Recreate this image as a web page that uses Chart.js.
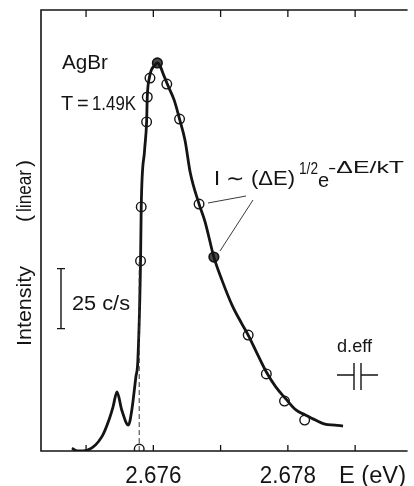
<!DOCTYPE html>
<html lang="en">
<head>
  <meta charset="UTF-8" />
  <title>AgBr emission line</title>
  <script src="https://cdn.jsdelivr.net/npm/chart.js"></script>
  <style>
    body {
      margin: 0;
      background: #fff;
    }
    canvas {
      display: block;
    }
  </style>
</head>
<body>
  <canvas id="spectrum" width="414" height="486"></canvas>

  <script>
    // traced spectrum: photon energy (eV) and intensity (c/s)
    const curveE = [2.67479, 2.67487, 2.67502, 2.67524, 2.67534, 2.67540, 2.67546, 2.67553, 2.67563, 2.67568,
      2.67574, 2.67577, 2.67581, 2.67582, 2.67587, 2.67590, 2.67591, 2.67594, 2.67597, 2.67601,
      2.67606, 2.67610, 2.67616, 2.67622, 2.67631, 2.67639, 2.67647, 2.67655, 2.67668, 2.67677,
      2.67690, 2.67702, 2.67717, 2.67731, 2.67741, 2.67756, 2.67768, 2.67782, 2.67797, 2.67812,
      2.67826, 2.67841, 2.67855, 2.67870, 2.67882];
    const curveI = [1.2, 0, 0.4, 6.2, 12.9, 18.3, 24.6, 17.1, 10.8, 17.1,
      30.8, 37.9, 79.2, 101.7, 125.4, 137.1, 147.5, 155.4, 158.7, 160.4,
      161.7, 160.4, 156.2, 152.1, 146.2, 138.3, 129.6, 115.8, 102.9, 95.4,
      80.8, 71.2, 60.8, 53.3, 48.3, 39.6, 32.9, 26.7, 21.7, 17.1,
      15.0, 12.9, 11.2, 10.8, 10.4];

    // fitted points (open circles)
    const openE = [2.67579, 2.67581, 2.67582, 2.67590, 2.67591, 2.67595, 2.67620, 2.67639, 2.67668, 2.67741, 2.67768, 2.67795, 2.67825];
    const openI = [0.8, 79.2, 101.7, 137.1, 147.5, 155.4, 152.9, 138.3, 102.9, 48.3, 32.1, 20.8, 12.9];

    // fit anchor points (filled circles)
    const filledE = [2.67606, 2.67690];
    const filledI = [161.7, 80.8];

    // dashed marker for the onset energy
    const onsetE = [2.67579, 2.67579];
    const onsetI = [0, 79.2];

    const xTicks = [2.675, 2.676, 2.677, 2.678, 2.679];
    const xTickLabels = ["", "2.676", "", "2.678", ""];
    const scaleBarTop = 76;
    const scaleBarCps = 25;

    const FONT = '"Liberation Sans", Arial, sans-serif';
    const INK = "#141414";

    const toXY = (xs, ys) => xs.map((x, i) => ({ x: x, y: ys[i] }));

    // draw text squeezed or stretched to a given width
    function fitText(ctx, text, x, y, width) {
      const w = ctx.measureText(text).width;
      ctx.save();
      ctx.translate(x, y);
      ctx.scale(width / w, 1);
      ctx.fillText(text, 0, 0);
      ctx.restore();
    }

    const decorations = {
      id: "decorations",
      afterDraw(chart) {
        const ctx = chart.ctx;
        const area = chart.chartArea;
        const xs = chart.scales.x;
        const ys = chart.scales.y;
        ctx.save();
        ctx.strokeStyle = INK;
        ctx.fillStyle = INK;
        ctx.textAlign = "left";
        ctx.textBaseline = "alphabetic";

        // frame: left, top, bottom
        ctx.lineWidth = 1.6;
        ctx.beginPath();
        ctx.moveTo(area.right, area.top);
        ctx.lineTo(area.left, area.top);
        ctx.lineTo(area.left, area.bottom);
        ctx.lineTo(area.right, area.bottom);
        ctx.stroke();

        // inward ticks on top and bottom
        ctx.lineWidth = 1.3;
        xTicks.forEach((t, i) => {
          const px = xs.getPixelForValue(t);
          ctx.beginPath();
          ctx.moveTo(px, area.top);
          ctx.lineTo(px, area.top + 7);
          ctx.moveTo(px, area.bottom);
          ctx.lineTo(px, area.bottom - 6);
          ctx.stroke();
          if (xTickLabels[i]) {
            ctx.font = "24px " + FONT;
            fitText(ctx, xTickLabels[i], px - 28, 483, 56);
          }
        });
        ctx.font = "23px " + FONT;
        fitText(ctx, "E (eV)", 339, 483, 67);

        // y axis title, rotated
        ctx.save();
        ctx.translate(31, 0);
        ctx.rotate(-Math.PI / 2);
        ctx.font = "20px " + FONT;
        fitText(ctx, "Intensity", -346, 0, 80);
        fitText(ctx, "(", -222, 0, 7);
        fitText(ctx, "linear", -212, 0, 42);
        fitText(ctx, ")", -167, 0, 7);
        ctx.restore();

        // sample labels
        ctx.font = "20px " + FONT;
        fitText(ctx, "AgBr", 62, 69, 46);
        ctx.fillText("T", 61, 110);
        ctx.fillText("=", 77, 110);
        fitText(ctx, "1.49K", 92, 110, 44);

        // 25 c/s scale bar
        const barTop = ys.getPixelForValue(scaleBarTop);
        const barBot = ys.getPixelForValue(scaleBarTop - scaleBarCps);
        ctx.lineWidth = 1.4;
        ctx.beginPath();
        ctx.moveTo(61, barTop);
        ctx.lineTo(61, barBot);
        ctx.moveTo(57, barTop);
        ctx.lineTo(65, barTop);
        ctx.moveTo(57, barBot);
        ctx.lineTo(65, barBot);
        ctx.stroke();
        ctx.font = "20px " + FONT;
        fitText(ctx, "25 c/s", 72, 310, 58);

        // formula
        ctx.font = "20px " + FONT;
        fitText(ctx, "I \u223C (\u0394E)", 214, 185, 81);
        ctx.font = "16px " + FONT;
        fitText(ctx, "1/2", 299, 174, 19);
        ctx.font = "20px " + FONT;
        ctx.fillText("e", 318, 187);
        ctx.font = "16px " + FONT;
        fitText(ctx, "-\u0394E/kT", 328, 173, 76);

        // leader lines to the fit anchors
        ctx.strokeStyle = "#3a3a3a";
        ctx.lineWidth = 1;
        ctx.beginPath();
        ctx.moveTo(246, 196);
        ctx.lineTo(208, 203);
        ctx.moveTo(253, 200);
        ctx.lineTo(220, 251);
        ctx.stroke();

        // effective resolution marker
        ctx.strokeStyle = INK;
        ctx.fillStyle = INK;
        ctx.font = "19px " + FONT;
        fitText(ctx, "d.eff", 337, 352, 35);
        ctx.lineWidth = 1.4;
        ctx.beginPath();
        ctx.moveTo(337, 375);
        ctx.lineTo(354, 375);
        ctx.moveTo(361, 375);
        ctx.lineTo(378, 375);
        ctx.moveTo(354, 363);
        ctx.lineTo(354, 390);
        ctx.moveTo(361, 363);
        ctx.lineTo(361, 390);
        ctx.stroke();

        ctx.restore();
      }
    };

    new Chart(document.getElementById("spectrum"), {
      type: "scatter",
      data: {
        datasets: [
          {
            data: toXY(onsetE, onsetI),
            showLine: true,
            borderColor: "#333",
            borderWidth: 1,
            borderDash: [5, 3],
            pointRadius: 0
          },
          {
            data: toXY(curveE, curveI),
            showLine: true,
            borderColor: INK,
            borderWidth: 2.8,
            cubicInterpolationMode: "monotone",
            pointRadius: 0
          },
          {
            data: toXY(openE, openI),
            pointRadius: 4.8,
            pointBackgroundColor: "#fff",
            pointBorderColor: INK,
            pointBorderWidth: 1.4
          },
          {
            data: toXY(filledE, filledI),
            pointRadius: 4.8,
            pointBackgroundColor: "#4a4a4a",
            pointBorderColor: INK,
            pointBorderWidth: 1.6
          }
        ]
      },
      options: {
        responsive: false,
        animation: false,
        layout: {
          padding: { left: 41, top: 10, right: 0, bottom: 35 }
        },
        plugins: {
          legend: { display: false },
          tooltip: { enabled: false }
        },
        scales: {
          x: { type: "linear", min: 2.67433, max: 2.67978, display: false },
          y: { type: "linear", min: 0, max: 183.75, display: false }
        }
      },
      plugins: [decorations]
    });
  </script>
</body>
</html>
